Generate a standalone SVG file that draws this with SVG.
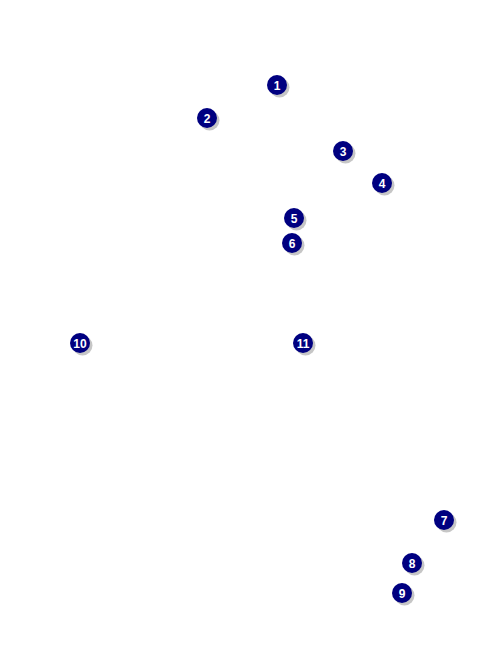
<svg xmlns="http://www.w3.org/2000/svg" width="486" height="648" viewBox="0 0 486 648">
<style>
.sh{fill:#a0a0a0;opacity:0.6}
.c{fill:#000080}
.t{fill:#ffffff;font-family:"Liberation Sans",Arial,sans-serif;font-weight:bold;font-size:12px;text-anchor:middle}
</style>
<defs>
<g id="m"><circle class="sh" cx="2.5" cy="2.5" r="10"/><circle class="c" cx="0" cy="0" r="10"/></g>
</defs>
<rect width="486" height="648" fill="#ffffff"/>
<g id="connectors"></g>
<g id="n1" transform="translate(277,85)"><use href="#m"/><text class="t" y="4.5">1</text></g>
<g id="n2" transform="translate(207,118)"><use href="#m"/><text class="t" y="4.5">2</text></g>
<g id="n3" transform="translate(343,151)"><use href="#m"/><text class="t" y="4.5">3</text></g>
<g id="n4" transform="translate(382,183)"><use href="#m"/><text class="t" y="4.5">4</text></g>
<g id="n5" transform="translate(294,218)"><use href="#m"/><text class="t" y="4.5">5</text></g>
<g id="n6" transform="translate(292,243)"><use href="#m"/><text class="t" y="4.5">6</text></g>
<g id="n7" transform="translate(444,520)"><use href="#m"/><text class="t" y="4.5">7</text></g>
<g id="n8" transform="translate(412,563)"><use href="#m"/><text class="t" y="4.5">8</text></g>
<g id="n9" transform="translate(402,593)"><use href="#m"/><text class="t" y="4.5">9</text></g>
<g id="n10" transform="translate(80,343)"><use href="#m"/><text class="t" y="4.5">10</text></g>
<g id="n11" transform="translate(303,343)"><use href="#m"/><text class="t" y="4.5">11</text></g>
</svg>
